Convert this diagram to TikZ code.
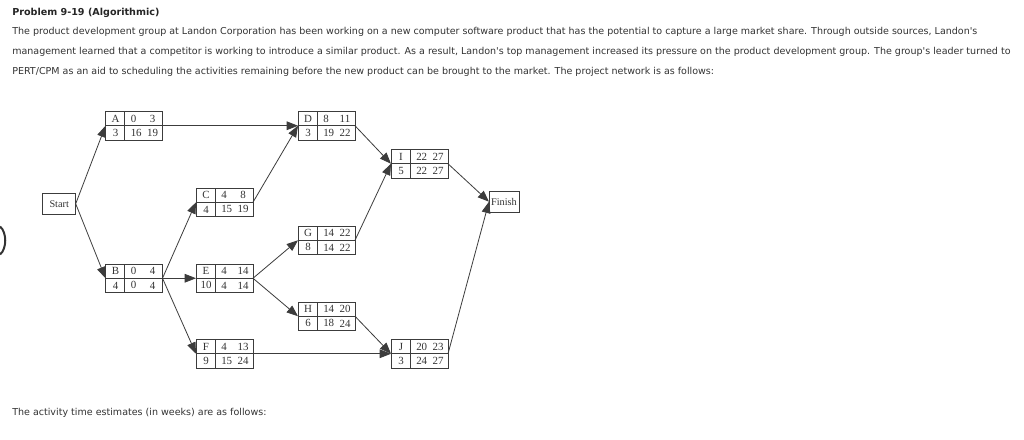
\documentclass[tikz,border=0pt]{standalone}
\usepackage{fontspec}
\setmainfont{Liberation Serif}
\newfontfamily\verd{DejaVu Sans}
\usetikzlibrary{arrows.meta}
\definecolor{ink}{HTML}{333333}
\definecolor{lin}{HTML}{3C3C3C}
\tikzset{
  abox/.style={draw=lin, line width=0.75pt, minimum width=42.75pt, minimum height=21.375pt, inner sep=0pt, outer sep=0pt},
  endbox/.style={draw=lin, line width=0.75pt, inner ysep=0pt, inner xsep=0.8pt, outer sep=0pt, font=\fontsize{7.7}{9}\selectfont, text=ink},
  btxt/.style={inner sep=0pt, font=\fontsize{8.2}{9}\selectfont, text=ink},
  divline/.style={lin, line width=0.75pt},
  conn/.style={lin, line width=0.6pt, -{Triangle[length=8.5pt,width=6.5pt]}},
  body/.style={anchor=west, inner sep=0pt, text=ink, font=\verd\fontsize{7.15}{9}\selectfont},
}
\newcommand\actbox[9]{%
  \node[abox, anchor=north west] (#1) at (#2,#3) {};
  \draw[divline] ([xshift=14.25pt]#1.north west) -- ([xshift=14.25pt]#1.south west);
  \draw[divline] (#1.west) -- (#1.east);
  \node[btxt] at ([xshift=7.5pt,yshift=-5.35pt]#1.north west) {#4};
  \node[btxt, anchor=west] at ([xshift=18.75pt,yshift=-5.35pt]#1.north west) {#5};
  \node[btxt] at ([xshift=35.25pt,yshift=-5.35pt]#1.north west) {#6};
  \node[btxt] at ([xshift=7.5pt,yshift=-16.05pt]#1.north west) {#7};
  \node[btxt, anchor=west] at ([xshift=18.75pt,yshift=-16.05pt]#1.north west) {#8};
  \node[btxt] at ([xshift=35.25pt,yshift=-16.05pt]#1.north west) {#9};
}
\begin{document}
\begin{tikzpicture}[x=0.75pt, y=-0.75pt]
\useasboundingbox (0,0) rectangle (1024,439);
\fill[white] (0,0) rectangle (1024,439);

% text
\node[body, text=black!85, font=\verd\bfseries\fontsize{7.2}{9}\selectfont] (title) at (12,13) {Problem 9-19 (Algorithmic)};
\node[body] (l1) at (12,32) {The product development group at Landon Corporation has been working on a new computer software product that has the potential to capture a large market share. Through outside sources, Landon's};
\node[body] (l2) at (12,52) {management learned that a competitor is working to introduce a similar product. As a result, Landon's top management increased its pressure on the product development group. The group's leader turned to};
\node[body] (l3) at (12,72) {PERT/CPM as an aid to scheduling the activities remaining before the new product can be brought to the market. The project network is as follows:};
\node[body] (l4) at (12,413) {The activity time estimates (in weeks) are as follows:};

% partial circle at left edge
\draw[ink, line width=1.5pt] (0,226.5) .. controls (7,232) and (7,249) .. (0,254.5);

% start / finish
\node[endbox, minimum width=24.75pt, minimum height=15.75pt] (start) at (59.2,203.8) {Start};
\node[endbox, minimum width=22.5pt, minimum height=16pt] (finish) at (504,201.7) {Finish};

% activities
\actbox{A}{105.5}{111.5}{A}{0}{3}{3}{16}{19}
\actbox{B}{105.5}{264}{B}{0}{4}{4}{0}{4}
\actbox{C}{196}{188}{C}{4}{8}{4}{15}{19}
\actbox{D}{298}{111.5}{D}{8}{11}{3}{19}{22}
\actbox{E}{196}{264}{E}{4}{14}{10}{4}{14}
\actbox{F}{196}{339.5}{F}{4}{13}{9}{15}{24}
\actbox{G}{298}{226}{G}{14}{22}{8}{14}{22}
\actbox{H}{298}{302}{H}{14}{20}{6}{18}{24}
\actbox{I}{391}{149.5}{I}{22}{27}{5}{22}{27}
\actbox{J}{391}{339.5}{J}{20}{23}{3}{24}{27}

% connectors
\draw[conn] (start.east) -- (A.west);
\draw[conn] (start.east) -- (B.west);
\draw[conn] (A.east) -- (D.west);
\draw[conn] (B.east) -- (C.west);
\draw[conn] (B.east) -- (E.west);
\draw[conn] (B.east) -- (F.west);
\draw[conn] (C.east) -- (D.west);
\draw[conn] (D.east) -- (I.west);
\draw[conn] (G.east) -- (I.west);
\draw[conn] (E.east) -- (G.west);
\draw[conn] (E.east) -- (H.west);
\draw[conn] (H.east) -- (J.west);
\draw[conn] (F.east) -- (J.west);
\draw[conn] (I.east) -- (finish.west);
\draw[conn] (J.east) -- (finish.west);
\end{tikzpicture}
\end{document}
